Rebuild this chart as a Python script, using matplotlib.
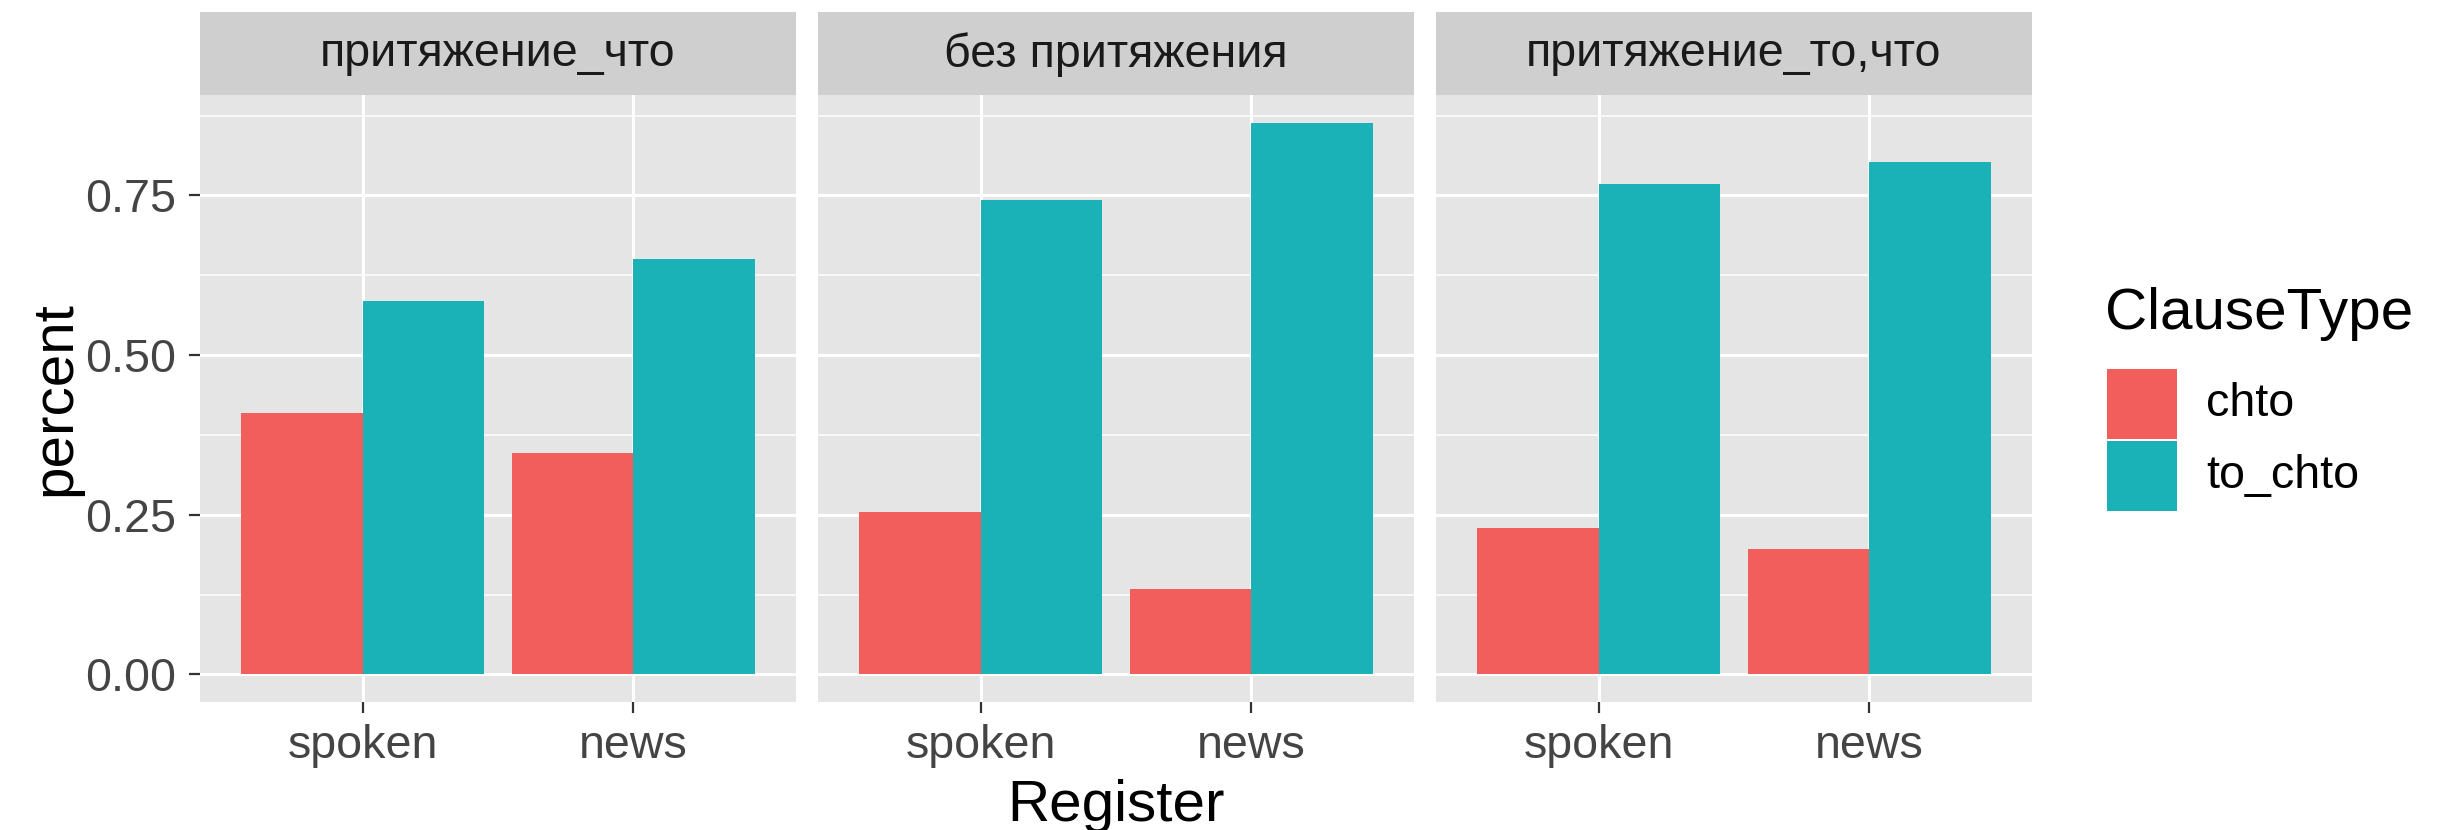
import matplotlib
matplotlib.use('Agg')
import matplotlib.pyplot as plt
from matplotlib.patches import Rectangle
from matplotlib.ticker import MultipleLocator

W, H = 2451, 830
DPI = 100

# data
facets = ['притяжение_что', 'без притяжения', 'притяжение_то,что']
registers = ['spoken', 'news']
clause_types = ['chto', 'to_chto']
chto = [[0.409, 0.347], [0.254, 0.134], [0.229, 0.196]]
to_chto = [[0.584, 0.650], [0.743, 0.864], [0.768, 0.802]]
y_ticks = [0.00, 0.25, 0.50, 0.75]
y_ticklabels = ['0.00', '0.25', '0.50', '0.75']

fills = ['#F25E5B', '#1AB2B7']
panel_bg = '#E5E5E5'
strip_bg = '#CFCFCF'

plt.rcParams['font.family'] = ['Liberation Sans', 'DejaVu Sans']

fig = plt.figure(figsize=(W / DPI, H / DPI), dpi=DPI)


def fx(px):
    return px / W


def fy(py):
    return 1 - py / H


# panel layout in pixels
panel_left = [200, 818, 1436]
panel_w = 596
panel_top, panel_bottom = 95, 702
strip_top = 12

ymax = max(max(r) for r in chto + to_chto)
pad = 0.05 * ymax
bar_w = 0.45

for i, name in enumerate(facets):
    left = panel_left[i]
    ax = fig.add_axes([fx(left), fy(panel_bottom), panel_w / W,
                       (panel_bottom - panel_top) / H])
    ax.set_facecolor(panel_bg)
    for s in ax.spines.values():
        s.set_visible(False)

    xs = range(len(registers))
    ax.bar([x - bar_w / 2 for x in xs], chto[i], width=bar_w,
           color=fills[0], zorder=3)
    ax.bar([x + bar_w / 2 for x in xs], to_chto[i], width=bar_w,
           color=fills[1], zorder=3)

    ax.set_xlim(-0.6, len(registers) - 0.4)
    ax.set_ylim(-pad, ymax + pad)
    ax.set_xticks(list(xs))
    ax.set_xticklabels(registers)
    ax.set_yticks(y_ticks)
    ax.yaxis.set_minor_locator(MultipleLocator(0.125))
    ax.grid(which='major', color='white', linewidth=2.2, zorder=1)
    ax.grid(which='minor', axis='y', color='white', linewidth=1.1, zorder=1)
    ax.set_axisbelow(True)

    ax.tick_params(axis='x', which='major', length=8, width=1.6,
                   color='#333333', labelsize=33.6, labelcolor='#444444', pad=8)
    ax.tick_params(axis='y', which='minor', length=0)
    if i == 0:
        ax.set_yticklabels(y_ticklabels)
        ax.tick_params(axis='y', which='major', length=8, width=1.6,
                       color='#333333', labelsize=33.6, labelcolor='#444444', pad=9)
    else:
        ax.tick_params(axis='y', which='major', length=0, labelleft=False)

    # facet strip
    fig.add_artist(Rectangle((fx(left), fy(panel_top)), panel_w / W,
                             (panel_top - strip_top) / H,
                             facecolor=strip_bg, edgecolor='none',
                             transform=fig.transFigure))
    fig.text(fx(left + panel_w / 2), fy((panel_top + strip_top) / 2 + 1), name,
             ha='center', va='center', fontsize=33.6, color='#1A1A1A')

# axis titles
fig.text(fx(55), fy((panel_top + panel_bottom) / 2), 'percent', rotation=90,
         ha='center', va='center', fontsize=42, color='black')
fig.text(fx((panel_left[0] + panel_left[-1] + panel_w) / 2), fy(806), 'Register',
         ha='center', va='center', fontsize=42, color='black')

# legend
fig.text(fx(2105), fy(314), 'ClauseType', ha='left', va='center',
         fontsize=42, color='black')
key_top = 369
key_size = 70
for k, label in enumerate(clause_types):
    y0 = key_top + k * (key_size + 2)
    fig.add_artist(Rectangle((fx(2107), fy(y0 + key_size)), key_size / W,
                             key_size / H, facecolor=fills[k], edgecolor='none',
                             transform=fig.transFigure))
    fig.text(fx(2206), fy(y0 + key_size / 2), label, ha='left', va='center',
             fontsize=33.6, color='black')

fig.savefig('out.png', dpi=DPI, facecolor='white')
